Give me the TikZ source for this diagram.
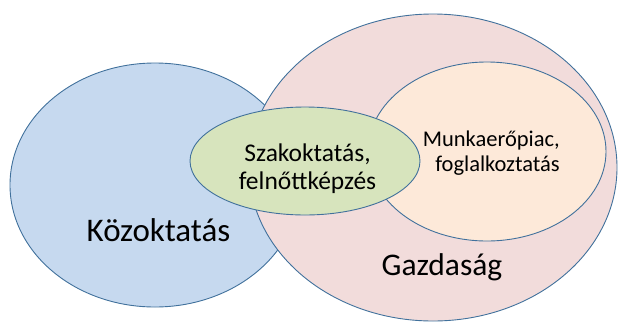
\documentclass[tikz,border=0pt]{standalone}
\usepackage{fontspec}
\setmainfont{Carlito}
\usetikzlibrary{shapes.geometric}

\definecolor{rim}{HTML}{41719C}
\definecolor{kozfill}{HTML}{C6D9EF}
\definecolor{gazdfill}{HTML}{F2DCDB}
\definecolor{munkafill}{HTML}{FDE9D9}
\definecolor{szakfill}{HTML}{D7E4BD}

\begin{document}
\begin{tikzpicture}[x=1pt, y=-1pt,
    field/.style = {draw=rim, line width=0.9pt, ellipse, inner sep=0pt},
    big/.style   = {anchor=base, inner sep=0pt},
    small/.style = {inner sep=0pt},
  ]
  \useasboundingbox (0,0) rectangle (618,322);
  \node[field, fill=kozfill, minimum width=290pt, minimum height=244pt] (koz) at (155,185) {};
  \node[field, fill=gazdfill, minimum width=368pt, minimum height=307pt] (gazd) at (433,167.5) {};
  \node[field, fill=munkafill, minimum width=238pt, minimum height=179pt] (munka) at (487,151.5) {};
  \node[field, fill=szakfill, minimum width=230pt, minimum height=108pt] (szak) at (305,161) {};

  \node[big, font=\fontsize{33}{40}\selectfont] (kozlabel) at (158.5,241) {Közoktatás};
  \node[big, font=\fontsize{31.5}{38}\selectfont] (gazdlabel) at (442,275) {Gazdaság};
  \node[small, align=center, font=\fontsize{25.5}{28}\selectfont] (szaklabel) at (307.5,169) {Szakoktatás,\\felnőttképzés};
  \node[small, align=right, anchor=east, font=\fontsize{22.5}{25}\selectfont] (munkalabel) at (560,153.5) {Munkaerőpiac,\\foglalkoztatás};
\end{tikzpicture}
\end{document}
